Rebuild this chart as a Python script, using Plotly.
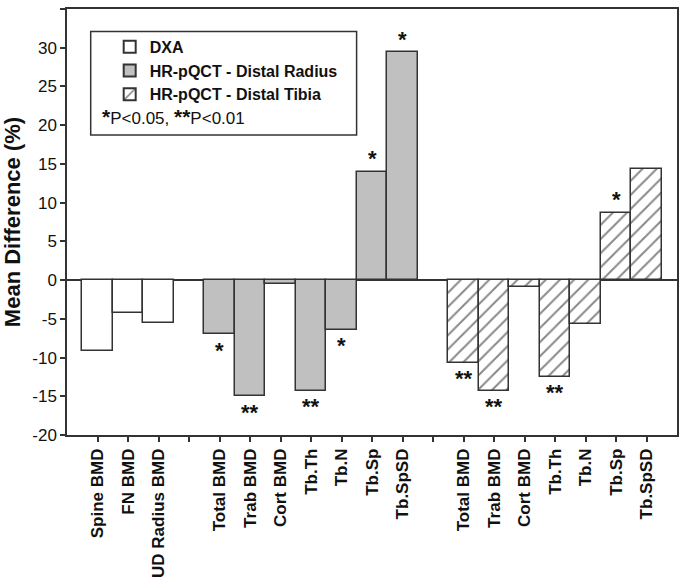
import plotly.graph_objects as go

FONT = "Liberation Sans, Arial, sans-serif"

# ---- data ----
dxa_labels = ["Spine BMD", "FN BMD", "UD Radius BMD"]
dxa_values = [-9.2, -4.3, -5.5]

radius_labels = ["Total BMD", "Trab BMD", "Cort BMD", "Tb.Th", "Tb.N", "Tb.Sp", "Tb.SpSD"]
radius_values = [-7.0, -15.0, -0.5, -14.3, -6.4, 14.0, 29.4]
radius_sig = ["*", "**", "", "**", "*", "*", "*"]

tibia_labels = ["Total BMD", "Trab BMD", "Cort BMD", "Tb.Th", "Tb.N", "Tb.Sp", "Tb.SpSD"]
tibia_values = [-10.7, -14.3, -0.9, -12.5, -5.7, 8.7, 14.3]
tibia_sig = ["**", "**", "", "**", "", "*", ""]

series_names = ["DXA", "HR-pQCT - Distal Radius", "HR-pQCT - Distal Tibia"]

y_ticks = [-20, -15, -10, -5, 0, 5, 10, 15, 20, 25, 30, 35]

# ---- positions (groups separated by one empty slot) ----
groups = [dxa_labels, radius_labels, tibia_labels]
positions = []
start = 0
for g in groups:
    positions.append(list(range(start, start + len(g))))
    start += len(g) + 1
dxa_x, radius_x, tibia_x = positions
n_slots = start - 1

tickvals = list(range(n_slots))
ticktext = [""] * n_slots
for xs, labs in zip(positions, groups):
    for x, l in zip(xs, labs):
        ticktext[x] = "<b>" + l + "</b>"

line = dict(color="#333333", width=1.5)

fig = go.Figure()
fig.add_trace(go.Bar(x=dxa_x, y=dxa_values, name=series_names[0],
                     marker=dict(color="white", line=line), width=1.0))
fig.add_trace(go.Bar(x=radius_x, y=radius_values, name=series_names[1],
                     marker=dict(color="#c0c0c0", line=line), width=1.0))
fig.add_trace(go.Bar(x=tibia_x, y=tibia_values, name=series_names[2],
                     marker=dict(color="white", line=line,
                                 pattern=dict(shape="/", fgcolor="#111111", bgcolor="white",
                                              size=10, solidity=0.2)),
                     width=1.0))

# significance markers
for xs, vals, sigs in [(radius_x, radius_values, radius_sig), (tibia_x, tibia_values, tibia_sig)]:
    for x, v, s in zip(xs, vals, sigs):
        if not s:
            continue
        fig.add_annotation(x=x, y=v, xref="x", yref="y", text="<b>" + s + "</b>",
                           showarrow=False, yanchor="middle", xanchor="center",
                           yshift=(-16 if v < 0 else 13),
                           font=dict(family=FONT, size=22, color="#111111"))

# legend box + p-value note
x0px, w = 67.3, 610.2
y0px, h = 9.3, 425.4
def px_x(p):
    return (p - x0px) / w
def px_y(p):
    return 1 - (p - y0px) / h

fig.add_shape(type="rect", xref="paper", yref="paper",
              x0=px_x(91), x1=px_x(357), y0=px_y(135), y1=px_y(31.7),
              line=dict(color="#333333", width=1.5), fillcolor="white", layer="below")
fig.add_annotation(xref="paper", yref="paper", x=px_x(100), y=px_y(117),
                   xanchor="left", yanchor="middle", showarrow=False,
                   text="<span style='font-size:21px'><b>*</b></span>P&lt;0.05, "
                        "<span style='font-size:21px'><b>**</b></span>P&lt;0.01",
                   font=dict(family=FONT, size=17, color="#111111"))

fig.update_layout(
    width=681, height=579,
    margin=dict(l=67, r=4, t=9, b=144),
    paper_bgcolor="white", plot_bgcolor="white",
    barmode="overlay", bargap=0,
    font=dict(family=FONT, color="#111111"),
    showlegend=True,
    legend=dict(x=px_x(110), y=px_y(30), xanchor="left", yanchor="top",
                bgcolor="rgba(0,0,0,0)", borderwidth=0,
                font=dict(family=FONT, size=16, color="#111111", weight="bold"),
                tracegroupgap=0, itemsizing="constant"),
)
fig.update_xaxes(range=[-1, n_slots], tickvals=tickvals, ticktext=ticktext,
                 tickangle=-90, tickfont=dict(family=FONT, size=17, color="#111111"),
                 showline=True, linecolor="#333333", linewidth=1.5, mirror=True,
                 ticks="outside", ticklen=5, tickcolor="#333333", tickwidth=1.5,
                 showgrid=False, zeroline=False, automargin=False)
fig.update_yaxes(range=[-20, 35], tickvals=y_ticks, ticktext=[str(t) for t in y_ticks],
                 tickfont=dict(family=FONT, size=17, color="#111111"),
                 title=dict(text="<b>Mean Difference (%)</b>", font=dict(family=FONT, size=22, color="#111111"),
                            standoff=8),
                 showline=True, linecolor="#333333", linewidth=1.5, mirror=True,
                 ticks="outside", ticklen=5, tickcolor="#333333", tickwidth=1.5,
                 showgrid=False, zeroline=True, zerolinecolor="#333333", zerolinewidth=1.5,
                 automargin=False)

fig.write_html("out.html", config={"displayModeBar": False},
               post_script="document.body.style.margin='0';document.body.style.overflow='hidden';")
